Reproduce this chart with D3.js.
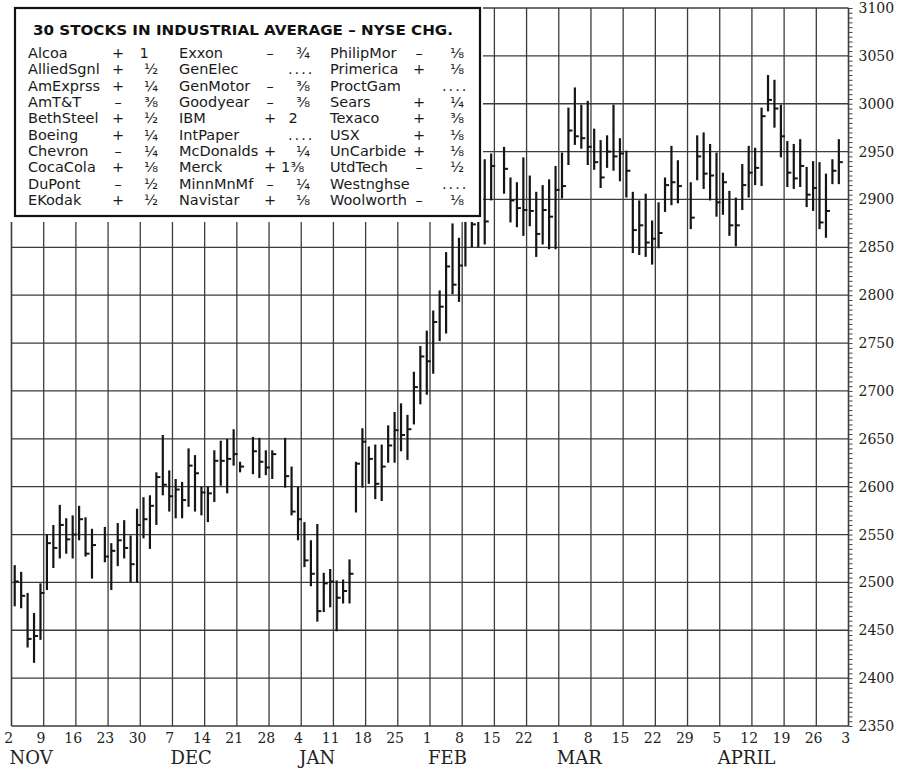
<!DOCTYPE html>
<html>
<head>
<meta charset="utf-8">
<script src="https://cdn.jsdelivr.net/npm/d3@7"></script>
<style>
  html, body { margin: 0; padding: 0; background: #fff; }
  svg { display: block; }
</style>
</head>
<body>
<div id="chart"></div>
<script>
// Dow Jones Industrial Average, daily high / low / close (Nov 1990 - May 1991)
const sessions = [
  '1990-11-05','1990-11-06','1990-11-07','1990-11-08','1990-11-09',
  '1990-11-12','1990-11-13','1990-11-14','1990-11-15','1990-11-16',
  '1990-11-19','1990-11-20','1990-11-21','1990-11-23',
  '1990-11-26','1990-11-27','1990-11-28','1990-11-29','1990-11-30',
  '1990-12-03','1990-12-04','1990-12-05','1990-12-06','1990-12-07',
  '1990-12-10','1990-12-11','1990-12-12','1990-12-13','1990-12-14',
  '1990-12-17','1990-12-18','1990-12-19','1990-12-20','1990-12-21',
  '1990-12-24','1990-12-26','1990-12-27','1990-12-28',
  '1990-12-31','1991-01-02','1991-01-03','1991-01-04',
  '1991-01-07','1991-01-08','1991-01-09','1991-01-10','1991-01-11',
  '1991-01-14','1991-01-15','1991-01-16','1991-01-17','1991-01-18',
  '1991-01-21','1991-01-22','1991-01-23','1991-01-24','1991-01-25',
  '1991-01-28','1991-01-29','1991-01-30','1991-01-31','1991-02-01',
  '1991-02-04','1991-02-05','1991-02-06','1991-02-07','1991-02-08',
  '1991-02-11','1991-02-12','1991-02-13','1991-02-14','1991-02-15',
  '1991-02-19','1991-02-20','1991-02-21','1991-02-22',
  '1991-02-25','1991-02-26','1991-02-27','1991-02-28','1991-03-01',
  '1991-03-04','1991-03-05','1991-03-06','1991-03-07','1991-03-08',
  '1991-03-11','1991-03-12','1991-03-13','1991-03-14','1991-03-15',
  '1991-03-18','1991-03-19','1991-03-20','1991-03-21','1991-03-22',
  '1991-03-25','1991-03-26','1991-03-27','1991-03-28',
  '1991-04-01','1991-04-02','1991-04-03','1991-04-04','1991-04-05',
  '1991-04-08','1991-04-09','1991-04-10','1991-04-11','1991-04-12',
  '1991-04-15','1991-04-16','1991-04-17','1991-04-18','1991-04-19',
  '1991-04-22','1991-04-23','1991-04-24','1991-04-25','1991-04-26',
  '1991-04-29','1991-04-30','1991-05-01','1991-05-02'
];

const highs = [
  2518,2511,2489,2468,2499, 2550,2560,2581,2567,2570, 2580,2568,2556,2558, 2541,2562,2565,2549,2577,
  2589,2591,2615,2654,2617, 2608,2605,2640,2633,2600, 2600,2638,2648,2650,2660, 2626,2652,2651,2638,
  2638,2651,2621,2600, 2563,2544,2561,2510,2514, 2502,2503,2524,2626,2661, 2642,2644,2644,2664,2678,
  2687,2675,2720,2747,2763, 2784,2805,2845,2875,2860, 2910,2915,2920,2942,2948, 2955,2923,2918,2944,
  2925,2908,2915,2921,2935, 2949,2996,3017,2999,3003, 2974,2962,2967,2999,2964, 2951,2908,2899,2906,2878,
  2897,2923,2956,2941, 2918,2967,2970,2958,2949, 2928,2909,2902,2937,2956, 2954,2996,3030,3025,2999,
  2961,2958,2963,2934,2940, 2939,2927,2942,2963
];

const lows = [
  2475,2473,2432,2416,2440, 2492,2515,2525,2530,2525, 2544,2527,2504,2521, 2492,2517,2525,2500,2500,
  2546,2535,2560,2591,2574, 2567,2567,2579,2574,2570, 2563,2584,2601,2593,2622, 2615,2613,2609,2612,
  2608,2599,2570,2544, 2516,2496,2459,2469,2474, 2449,2478,2478,2573,2599, 2603,2587,2585,2625,2625,
  2637,2628,2665,2686,2696, 2718,2752,2760,2801,2793, 2830,2850,2850,2853,2899, 2906,2876,2871,2862,
  2872,2840,2853,2848,2848, 2901,2936,2957,2953,2936, 2931,2912,2933,2930,2919, 2902,2844,2842,2840,2832,
  2849,2887,2894,2896, 2869,2920,2911,2899,2882, 2884,2862,2851,2889,2902, 2915,2914,2992,2975,2944,
  2913,2911,2913,2892,2888, 2869,2860,2916,2916
];

const closes = [
  2501,2486,2441,2444,2489, 2541,2536,2560,2545,2550, 2566,2530,2539,2527, 2533,2544,2536,2519,2560,
  2566,2580,2610,2602,2590, 2597,2586,2622,2614,2594, 2593,2627,2627,2629,2634, 2621,2637,2626,2620,
  2634,2611,2574,2566, 2523,2509,2470,2499,2501, 2484,2491,2509,2624,2647, 2629,2603,2621,2643,2659,
  2654,2660,2704,2736,2731, 2772,2788,2830,2811,2831, 2902,2874,2910,2877,2935, 2932,2899,2891,2889,
  2888,2864,2889,2882,2910, 2914,2972,2966,2964,2955, 2939,2923,2950,2945,2948, 2930,2868,2873,2855,2859,
  2865,2915,2918,2914, 2881,2945,2927,2925,2897, 2918,2873,2873,2915,2928, 2933,2987,3004,2995,2966,
  2928,2922,2935,2905,2912, 2876,2888,2930,2939
];

// Vendredis (une ligne verticale par semaine)
const weekLabels = ['2','9','16','23','30','7','14','21','28','4','11','18','25','1',
  '8','15','22','1','8','15','22','29','5','12','19','26','3'];
const monthNames = ['NOV', 'DEC', 'JAN', 'FEB', 'MAR', 'APRIL'];
const monthStartWeek = [0, 5, 9, 13, 17, 22];
const priceTicks = d3.range(2350, 3101, 50);

// Tableau des 30 valeurs
const stockNames = [
  'Alcoa','AlliedSgnl','AmExprss','AmT&T','BethSteel','Boeing','Chevron','CocaCola','DuPont','EKodak',
  'Exxon','GenElec','GenMotor','Goodyear','IBM','IntPaper','McDonalds','Merck','MinnMnMf','Navistar',
  'PhilipMor','Primerica','ProctGam','Sears','Texaco','USX','UnCarbide','UtdTech','Westnghse','Woolworth'
];
const stockSigns = [
  '+','+','+','–','+','+','–','+','–','+',
  '–','','–','–','+','','+','+','–','+',
  '–','+','','+','+','+','+','–','','–'
];
const stockChanges = [
  '1','½','¼','⅜','½','¼','¼','⅛','½','½',
  '¾','....','⅜','⅜','2','....','¼','1⅜','¼','⅛',
  '⅛','⅛','....','¼','⅜','⅛','⅛','½','....','⅛'
];

const W = 899, H = 776;
const svg = d3.select('#chart').append('svg')
    .attr('width', W)
    .attr('height', H)
    .style('background', '#fff');

// position de séance : jours ouvrés depuis le lundi 5 nov. 1990
const t0 = Date.UTC(1990, 10, 5);
const sessionIndex = s => {
    const d = Math.round((Date.parse(s) - t0) / 864e5);
    return Math.floor(d / 7) * 5 + (d % 7);
};

const x = d3.scaleLinear().domain([-0.5, 129.5]).range([11.5, 848.5]);
const y = d3.scaleLinear().domain([2350, 3100]).range([726, 8]);

const data = sessions.map((s, i) => ({
    i: sessionIndex(s), high: highs[i], low: lows[i], close: closes[i]
}));

const gridColor = '#3c3c3c';

// Grille horizontale
svg.append('g').selectAll('line')
    .data(priceTicks)
    .enter().append('line')
    .attr('x1', x(-0.5)).attr('x2', x(129.5))
    .attr('y1', d => y(d)).attr('y2', d => y(d))
    .attr('stroke', gridColor)
    .attr('stroke-width', 1.3);

// Grille verticale (hebdomadaire)
svg.append('g').selectAll('line')
    .data(weekLabels.map((d, k) => k))
    .enter().append('line')
    .attr('x1', k => x(5 * k - 0.5)).attr('x2', k => x(5 * k - 0.5))
    .attr('y1', y(3100)).attr('y2', y(2350))
    .attr('stroke', gridColor)
    .attr('stroke-width', k => (k === 0 || k === 26) ? 1.6 : 1.3);

// Barres haut-bas
const bars = svg.append('g');
bars.selectAll('.hl')
    .data(data)
    .enter().append('line')
    .attr('class', 'hl')
    .attr('x1', d => x(d.i)).attr('x2', d => x(d.i))
    .attr('y1', d => y(d.high)).attr('y2', d => y(d.low))
    .attr('stroke', '#151515')
    .attr('stroke-width', 2.2);

// Clôture
bars.selectAll('.cl')
    .data(data)
    .enter().append('line')
    .attr('class', 'cl')
    .attr('x1', d => x(d.i)).attr('x2', d => x(d.i) + 4)
    .attr('y1', d => y(d.close)).attr('y2', d => y(d.close))
    .attr('stroke', '#151515')
    .attr('stroke-width', 2);

// Axe de droite : petites graduations + étiquettes
svg.append('g')
    .attr('transform', `translate(${x(129.5)},0)`)
    .call(d3.axisRight(y).tickValues(d3.range(2350, 3101, 5)).tickSize(4).tickFormat(''))
    .call(g => g.select('.domain').remove())
    .call(g => g.selectAll('line').attr('stroke', '#444').attr('stroke-width', 1));

svg.append('g')
    .attr('transform', `translate(${x(129.5)},0)`)
    .call(d3.axisRight(y).tickValues(priceTicks).tickSize(0).tickPadding(10).tickFormat(d3.format('d')))
    .call(g => g.select('.domain').remove())
    .call(g => g.selectAll('text')
        .attr('fill', '#222')
        .style('font-family', '"DejaVu Serif", serif')
        .style('font-size', '14px'));

// Axe du bas : dates des vendredis
svg.append('g')
    .attr('transform', `translate(0,${y(2350)})`)
    .call(d3.axisBottom(x)
        .tickValues(weekLabels.map((d, k) => 5 * k - 1))
        .tickSize(0).tickPadding(7)
        .tickFormat((d, k) => weekLabels[k]))
    .call(g => g.select('.domain').remove())
    .call(g => g.selectAll('text')
        .attr('fill', '#222')
        .style('font-family', '"DejaVu Serif", serif')
        .style('font-size', '14px'));

svg.append('g').selectAll('text')
    .data(monthNames)
    .enter().append('text')
    .attr('x', (d, k) => x(5 * monthStartWeek[k] - 0.5) - 2)
    .attr('y', 764)
    .attr('fill', '#222')
    .style('font-family', '"DejaVu Serif", serif')
    .style('font-size', '18px')
    .text(d => d);

// Encadré des 30 valeurs (masque blanc par-dessus les barres)
const legend = svg.append('g');
legend.append('rect')
    .attr('x', 0).attr('y', 0)
    .attr('width', 483).attr('height', 222)
    .attr('fill', '#fff');
legend.append('rect')
    .attr('x', 15).attr('y', 8)
    .attr('width', 465).attr('height', 208)
    .attr('fill', '#fff')
    .attr('stroke', '#111')
    .attr('stroke-width', 2.2);

legend.append('text')
    .attr('x', 33).attr('y', 35)
    .attr('textLength', 420)
    .attr('lengthAdjust', 'spacingAndGlyphs')
    .attr('fill', '#111')
    .style('font-family', '"DejaVu Sans", sans-serif')
    .style('font-weight', 'bold')
    .style('font-size', '13.5px')
    .text('30 STOCKS IN INDUSTRIAL AVERAGE – NYSE CHG.');

const colName = [28, 179, 330];
const colSign = [118, 270, 419];
const colWhole = [144, 293, 452];
const colFrac = [151, 303, 457];
const rowY = k => 58 + k * 16.33;
const legendFont = g => g
    .attr('fill', '#1a1a1a')
    .style('font-family', '"DejaVu Sans", sans-serif')
    .style('font-size', '14.5px');

const rows = legend.selectAll('.row')
    .data(stockNames)
    .enter().append('g')
    .attr('class', 'row');

rows.append('text')
    .attr('x', (d, i) => colName[Math.floor(i / 10)])
    .attr('y', (d, i) => rowY(i % 10))
    .call(legendFont)
    .text(d => d);

rows.append('text')
    .attr('x', (d, i) => colSign[Math.floor(i / 10)])
    .attr('y', (d, i) => rowY(i % 10))
    .attr('text-anchor', 'middle')
    .call(legendFont)
    .text((d, i) => stockSigns[i]);

rows.append('text')
    .attr('x', (d, i) => {
        const c = Math.floor(i / 10), v = stockChanges[i];
        if (v === '....') return colFrac[c] - 15;
        if (v.length > 1) return colFrac[c] - 22;
        if (/\d/.test(v)) return colWhole[c];
        return colFrac[c];
    })
    .attr('y', (d, i) => rowY(i % 10))
    .attr('text-anchor', (d, i) => stockChanges[i].length > 1 ? 'start' : 'middle')
    .attr('letter-spacing', (d, i) => stockChanges[i] === '....' ? 2 : 0)
    .call(legendFont)
    .text((d, i) => stockChanges[i]);
</script>
</body>
</html>
